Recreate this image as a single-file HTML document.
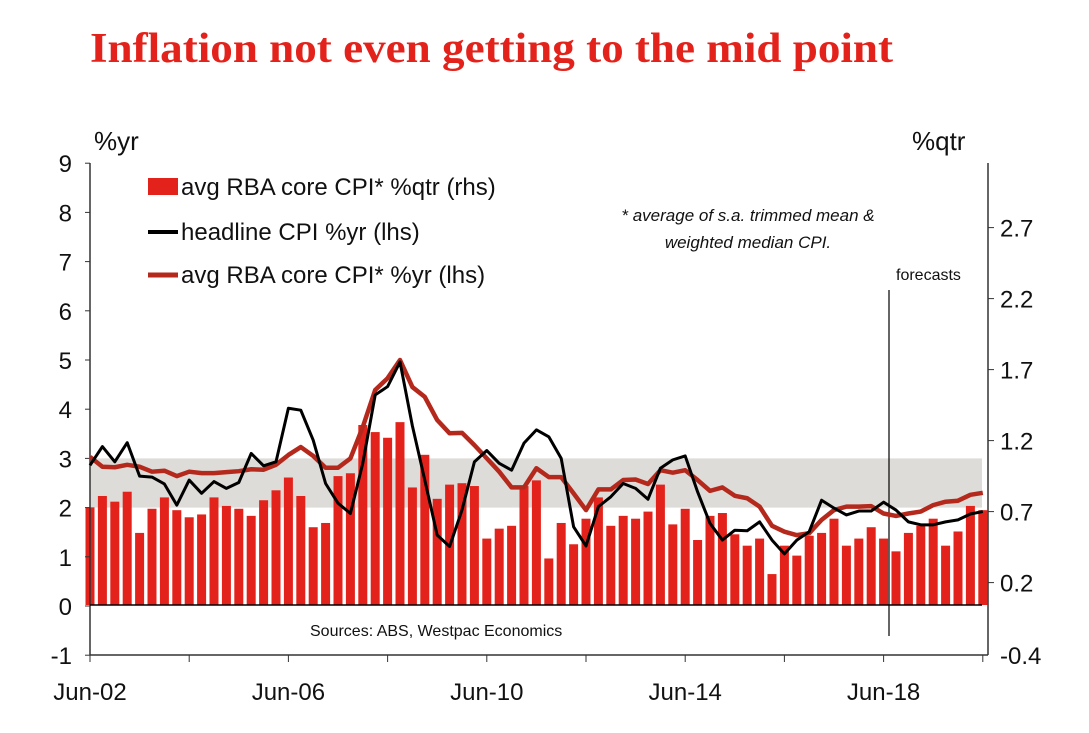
<!DOCTYPE html>
<html><head><meta charset="utf-8"><style>
body{margin:0;background:#fff;}
svg text{font-family:"Liberation Sans",sans-serif;}
</style></head><body>
<svg id="chart" width="1089" height="728" xmlns="http://www.w3.org/2000/svg">
<text x="90" y="62" style="font-family:'Liberation Serif',serif;font-weight:bold;font-size:42px" textLength="803" lengthAdjust="spacingAndGlyphs" fill="#e3231b">Inflation not even getting to the mid point</text>
<text x="94" y="150" font-size="26" fill="#111">%yr</text>
<text x="912" y="150" font-size="26" fill="#111">%qtr</text>
<rect x="90" y="458.4" width="892" height="49.2" fill="#dedcd8"/>
<g id="bars"></g>
<g id="axes"></g>
<line x1="889" y1="290" x2="889" y2="636" stroke="#000" stroke-width="1.2"/>
<text x="896" y="280" font-size="16" fill="#111">forecasts</text>
<g id="lines"></g>
<text x="310" y="636" font-size="16" fill="#111">Sources: ABS, Westpac Economics</text>
<text x="748" y="221" font-size="17" font-style="italic" text-anchor="middle" fill="#111">* average of s.a. trimmed mean &amp;</text>
<text x="748" y="248" font-size="17" font-style="italic" text-anchor="middle" fill="#111">weighted median CPI.</text>
<g>
<rect x="148" y="178" width="30" height="17" fill="#e3231b"/>
<text x="181" y="195" font-size="24" fill="#111">avg RBA core CPI* %qtr (rhs)</text>
<line x1="148" y1="232" x2="178" y2="232" stroke="#000" stroke-width="4"/>
<text x="181" y="240" font-size="24" fill="#111">headline CPI %yr (lhs)</text>
<line x1="148" y1="275" x2="178" y2="275" stroke="#b5291d" stroke-width="5"/>
<text x="181" y="283" font-size="24" fill="#111">avg RBA core CPI* %yr (lhs)</text>
</g>
</svg>
<script>
const coreQtr=[0.73,0.81,0.77,0.84,0.55,0.72,0.80,0.71,0.66,0.68,0.80,0.74,0.72,0.67,0.78,0.85,0.94,0.81,0.59,0.62,0.95,0.97,1.31,1.26,1.22,1.33,0.87,1.10,0.79,0.89,0.90,0.88,0.51,0.58,0.60,0.88,0.92,0.37,0.62,0.47,0.65,0.80,0.60,0.67,0.65,0.70,0.89,0.61,0.72,0.50,0.67,0.69,0.54,0.46,0.51,0.26,0.46,0.39,0.53,0.55,0.65,0.46,0.51,0.59,0.51,0.42,0.55,0.60,0.65,0.46,0.56,0.74,0.71];
const headline=[2.86,3.24,2.93,3.32,2.64,2.62,2.48,2.05,2.56,2.29,2.53,2.39,2.51,3.10,2.85,2.93,4.02,3.98,3.37,2.49,2.09,1.88,2.90,4.29,4.46,4.96,3.66,2.56,1.44,1.21,1.95,2.93,3.16,2.90,2.76,3.31,3.58,3.44,3.00,1.61,1.22,2.02,2.22,2.49,2.39,2.17,2.80,2.97,3.05,2.32,1.68,1.34,1.54,1.53,1.71,1.34,1.06,1.34,1.51,2.15,1.99,1.85,1.93,1.93,2.11,1.95,1.71,1.65,1.65,1.71,1.75,1.87,1.92];
const coreYr=[3.03,2.83,2.82,2.87,2.83,2.73,2.75,2.64,2.73,2.70,2.70,2.72,2.74,2.78,2.77,2.87,3.07,3.23,3.05,2.81,2.81,3.00,3.64,4.39,4.63,5.00,4.45,4.25,3.78,3.51,3.52,3.27,3.00,2.73,2.41,2.41,2.80,2.62,2.62,2.29,1.95,2.37,2.37,2.56,2.57,2.48,2.76,2.71,2.76,2.56,2.34,2.41,2.24,2.19,2.02,1.63,1.51,1.44,1.48,1.75,1.95,2.02,2.02,2.03,1.88,1.83,1.88,1.92,2.05,2.12,2.14,2.26,2.30];
const leftTicks=[-1,0,1,2,3,4,5,6,7,8,9];
const rightTicks=[0.2,0.7,1.2,1.7,2.2,2.7];
const rightMinLabel="-0.4";
const xLabels=["Jun-02","Jun-06","Jun-10","Jun-14","Jun-18"];
const NS="http://www.w3.org/2000/svg";
const X=i=>90+i*12.4;
const YL=v=>606-v*49.2;
const YR=v=>611-v*142;
function mk(tag,attrs,parent){const e=document.createElementNS(NS,tag);for(const k in attrs)e.setAttribute(k,attrs[k]);parent.appendChild(e);return e;}
const bars=document.getElementById('bars');
coreQtr.forEach((v,i)=>{
  const yt=YR(v);
  const r=mk('rect',{x:X(i)-4.5,y:yt,width:9,height:605-yt,fill:'#e3231b'},bars);
  
  
});
const axes=document.getElementById('axes');
let a=mk('line',{x1:90,y1:163,x2:90,y2:655,stroke:'#333','stroke-width':1.5},axes);


a=mk('line',{x1:988,y1:163,x2:988,y2:655,stroke:'#333','stroke-width':1.5},axes);


a=mk('line',{x1:90,y1:655,x2:988,y2:655,stroke:'#333','stroke-width':1.5},axes);


a=mk('line',{x1:90,y1:605,x2:982,y2:605,stroke:'#000','stroke-width':1.5},axes);


leftTicks.forEach(v=>{
  mk('line',{x1:85,y1:YL(v),x2:90,y2:YL(v),stroke:'#333'},axes);
  const t=mk('text',{x:72,y:YL(v)+9,'font-size':24,'text-anchor':'end',fill:'#111'},axes);
  t.textContent=v;
  
  
});
rightTicks.forEach(v=>{
  mk('line',{x1:988,y1:YR(v),x2:994,y2:YR(v),stroke:'#333'},axes);
  const t=mk('text',{x:1000,y:YR(v)+9,'font-size':24,fill:'#111'},axes);
  t.textContent=v;
  
  
});
const mt=mk('text',{x:1000,y:664,'font-size':24,fill:'#111'},axes);
mt.textContent=rightMinLabel;


for(let q=0;q<=72;q+=8){mk('line',{x1:X(q),y1:655,x2:X(q),y2:662,stroke:'#333'},axes);}
xLabels.forEach((s,k)=>{
  const t=mk('text',{x:X(k*16),y:700,'font-size':24,'text-anchor':'middle',fill:'#111'},axes);
  t.textContent=s;
  
  
});
const lines=document.getElementById('lines');
const p1=mk('polyline',{points:coreYr.map((v,i)=>X(i)+','+YL(v)).join(' '),fill:'none',stroke:'#b5291d','stroke-width':4.5,'stroke-linejoin':'round'},lines);


const p2=mk('polyline',{points:headline.map((v,i)=>X(i)+','+YL(v)).join(' '),fill:'none',stroke:'#000','stroke-width':3,'stroke-linejoin':'round'},lines);


</script>
</body></html>
